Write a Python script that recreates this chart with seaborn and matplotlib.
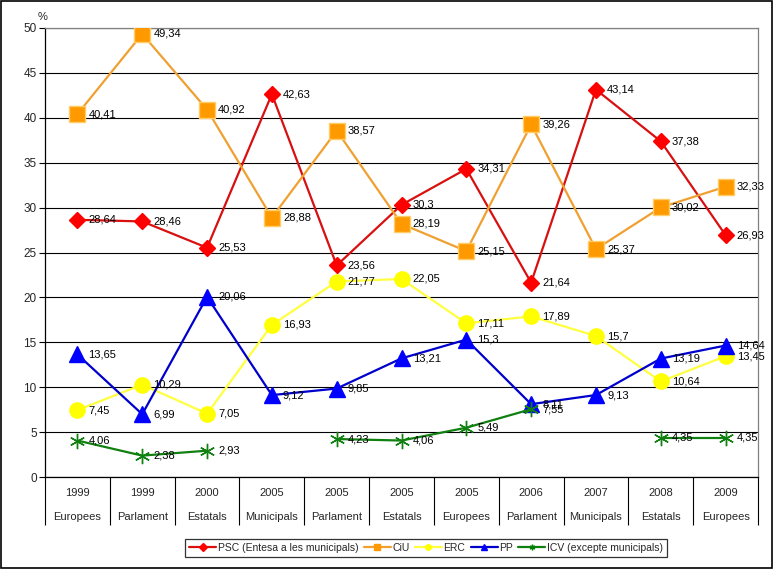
import matplotlib
matplotlib.use("Agg")
import matplotlib.pyplot as plt
from matplotlib.lines import Line2D
from matplotlib.patches import Rectangle
import seaborn as sns
import numpy as np
import pandas as pd

years = ["1999", "1999", "2000", "2005", "2005", "2005", "2005", "2006", "2007", "2008", "2009"]
types = ["Europees", "Parlament", "Estatals", "Municipals", "Parlament", "Estatals",
         "Europees", "Parlament", "Municipals", "Estatals", "Europees"]

psc = [28.64, 28.46, 25.53, 42.63, 23.56, 30.3, 34.31, 21.64, 43.14, 37.38, 26.93]
ciu = [40.41, 49.34, 40.92, 28.88, 38.57, 28.19, 25.15, 39.26, 25.37, 30.02, 32.33]
erc = [7.45, 10.29, 7.05, 16.93, 21.77, 22.05, 17.11, 17.89, 15.7, 10.64, 13.45]
pp = [13.65, 6.99, 20.06, 9.12, 9.85, 13.21, 15.3, 8.11, 9.13, 13.19, 14.64]
icv = [4.06, 2.38, 2.93, np.nan, 4.23, 4.06, 5.49, 7.55, np.nan, 4.35, 4.35]

series_names = ["PSC (Entesa a les municipals)", "CiU", "ERC", "PP", "ICV (excepte municipals)"]

sns.set_theme(style="white")
plt.rcParams['font.family'] = ['Liberation Sans', 'DejaVu Sans']
plt.rcParams['font.size'] = 8

fig = plt.figure(figsize=(7.74, 5.70), dpi=100)
ax = fig.add_axes([45 / 774, 1 - 477 / 570, 713 / 774, 449 / 570])

styles = [
    # line colour, marker, marker face, marker edge, size
    ("#D81010", "D", "#FF0000", "#FF0000", 8.5),
    ("#F0A030", "s", "#FF9900", "#FFCC66", 11),
    ("#FFFF40", "o", "#FFFF00", "#FFFF00", 11),
    ("#0000CC", "^", "#0000FF", "#0000FF", 11),
    ("#108010", (6, 2, 0), "#008000", "#108010", 11),
]

x = np.arange(len(years))
for name, vals, (lc, mk, mf, me, ms) in zip(series_names, [psc, ciu, erc, pp, icv], styles):
    df = pd.DataFrame({"x": x, "y": vals})
    # split into contiguous segments so gaps stay open
    seg = df["y"].isna().cumsum()
    for _, part in df[df["y"].notna()].groupby(seg[df["y"].notna()]):
        sns.lineplot(data=part, x="x", y="y", ax=ax, color=lc, lw=1.6,
                     marker=mk, markersize=ms, markerfacecolor=mf,
                     markeredgecolor=me, markeredgewidth=1.0, legend=False, zorder=3)

for vals in [psc, ciu, erc, pp, icv]:
    for xi, v in zip(x, vals):
        if np.isnan(v):
            continue
        ax.annotate(f"{v:g}".replace(".", ","), (xi, v), xytext=(8, 0),
                    textcoords="offset points", ha="left", va="center",
                    fontsize=8, color="black", zorder=5)

ax.set_xlim(-0.5, len(years) - 0.5)
ax.set_ylim(0, 50)
ax.set_yticks(np.arange(0, 51, 5))
ax.set_xticks(x)
ax.set_xticklabels([""] * len(x))
ax.set_xticks(np.arange(-0.5, len(years), 1), minor=True)
ax.tick_params(axis="x", which="major", length=0)
ax.tick_params(axis="x", which="minor", length=34.5, width=0.8, color="black", direction="out", bottom=True)
ax.tick_params(axis="y", length=4, width=0.8, color="black", direction="out", left=True, labelsize=8.5, pad=2)
ax.set_xlabel("")
ax.set_ylabel("")
ax.yaxis.grid(True, color="black", lw=0.8)
ax.xaxis.grid(False)
ax.set_axisbelow(True)
for s in ["left", "bottom"]:
    ax.spines[s].set_color("black")
    ax.spines[s].set_linewidth(0.9)
for s in ["top", "right"]:
    ax.spines[s].set_color("#808080")
    ax.spines[s].set_linewidth(0.9)

trans = ax.get_xaxis_transform()
for xi, yr, tp in zip(x, years, types):
    ax.text(xi, -16 / 449, yr, transform=trans, ha="center", va="center", fontsize=8)
    ax.text(xi, -40 / 449, tp, transform=trans, ha="center", va="center", fontsize=8)

fig.text(43 / 774, 1 - 17 / 570, "%", ha="center", va="center", fontsize=8)

handles = [Line2D([0], [0], color=lc, lw=1.6, marker=mk, markersize=4,
                  markerfacecolor=mf, markeredgecolor=mf) for (lc, mk, mf, me, ms) in styles]
leg = fig.legend(handles, series_names, loc="center", bbox_to_anchor=(426 / 774, 1 - 548 / 570),
                 ncol=5, frameon=True, fancybox=False, fontsize=7.5, handlelength=2.6,
                 handletextpad=0.15, columnspacing=0.5, borderpad=0.4, borderaxespad=0)
leg.get_frame().set_edgecolor("black")
leg.get_frame().set_linewidth(0.9)

fig.patches.append(Rectangle((1 / 774, 2 / 570), 771 / 774, 567 / 570, transform=fig.transFigure,
                             fill=False, edgecolor="black", lw=1.2))

fig.savefig("out.png", dpi=100)
